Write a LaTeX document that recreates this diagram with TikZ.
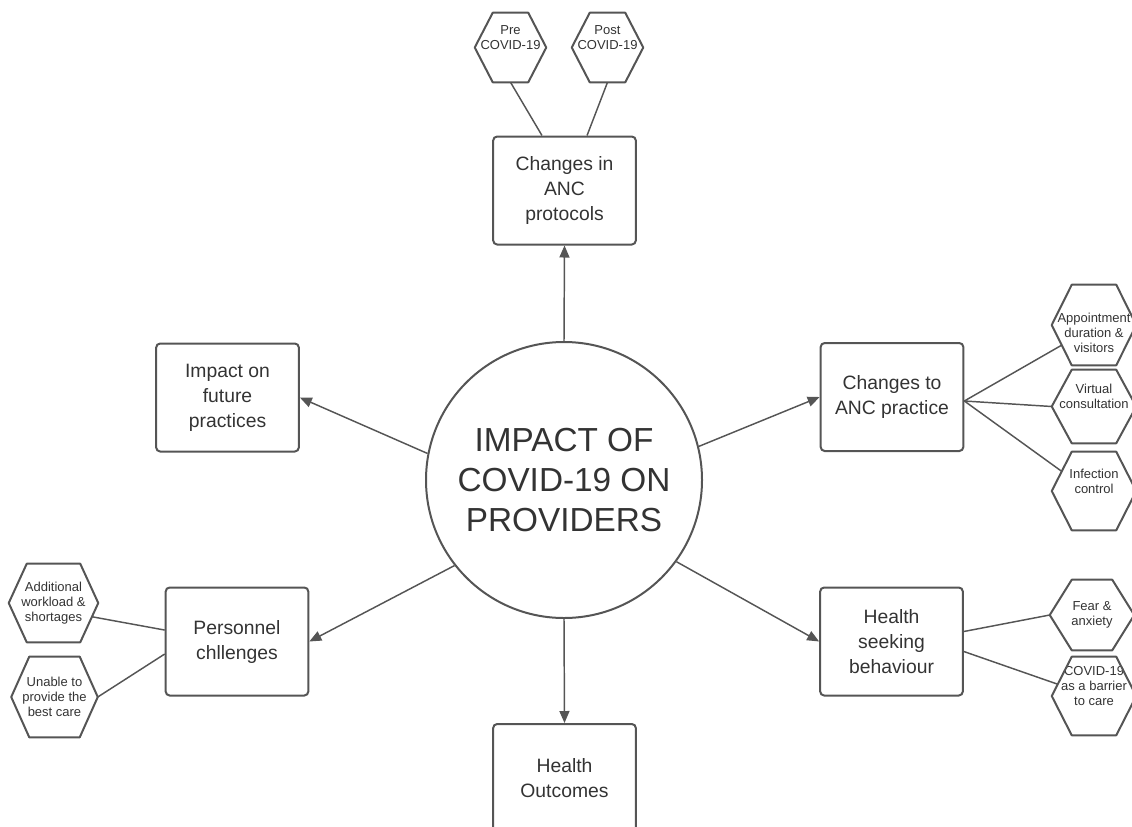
\documentclass[tikz,border=0pt]{standalone}
\usepackage{fontspec}
\setmainfont{Liberation Sans}
\usetikzlibrary{arrows.meta,calc}
\definecolor{linegray}{HTML}{555555}
\definecolor{textgray}{HTML}{333333}
\tikzset{
  conn/.style={draw=linegray, line width=1.1pt},
  arr/.style={conn, -{Triangle[length=9pt,width=7.5pt]}},
  hub/.style={circle, draw=linegray, line width=1.5pt, minimum size=207pt,
    inner sep=0pt, align=center, text=textgray,
    font=\fontsize{25}{30}\selectfont},
  topic/.style={rectangle, draw=linegray, line width=1.5pt, rounded corners=3pt,
    minimum width=107pt, minimum height=81pt, inner sep=0pt, align=center,
    text=textgray, font=\fontsize{14.5}{18.75}\selectfont},
  hexbox/.style={rectangle, inner sep=0pt, align=center, text=textgray,
    font=\fontsize{9.75}{11.25}\selectfont},
  hexline/.style={draw=linegray, line width=1.5pt, line join=round},
}
\begin{document}
\begin{tikzpicture}[x=0.75pt,y=-0.75pt]
\clip (0,0) rectangle (1132,826);

% central theme
\node[hub] (hub) at (564,480) {IMPACT OF\\COVID-19 ON\\PROVIDERS};

% main themes
\node[topic] (prot)     at (564.5,190.5) {Changes in\\ANC\\protocols};
\node[topic] (future)   at (227.5,397.5) {Impact on\\future\\practices};
\node[topic] (practice) at (892,397)     {Changes to\\ANC practice};
\node[topic] (pers)     at (237,641.5)   {Personnel\\chllenges};
\node[topic] (seek)     at (891.5,641.5) {Health\\seeking\\behaviour};
\node[topic] (outc)     at (564.5,778)   {Health\\Outcomes};

% sub-themes (hexagons)
\node[hexbox, minimum width=53.25pt, minimum height=51.75pt] (pre)  at (510.5,47.5) {Pre\\COVID-19\\\strut};
\node[hexbox, minimum width=53.25pt, minimum height=51.75pt] (post) at (607.5,47.5) {Post\\COVID-19\\\strut};
\node[hexbox, minimum width=63pt, minimum height=60pt]    (appt)  at (1094,325)   {\strut\\Appointment\\duration \&\\visitors};
\node[hexbox, minimum width=63pt, minimum height=54.75pt] (virt)  at (1094,406.5) {Virtual\\consultation\\\strut};
\node[hexbox, minimum width=63pt, minimum height=58.5pt]  (infc)  at (1094,491)   {Infection\\control\\\strut};
\node[hexbox, minimum width=63pt, minimum height=52.5pt]  (fear)  at (1092,615)   {Fear \&\\anxiety};
\node[hexbox, minimum width=63pt, minimum height=58.5pt]  (barr)  at (1094,696)   {COVID-19\\as a barrier\\to care\\\strut};
\node[hexbox, minimum width=66.75pt, minimum height=58.5pt] (addl) at (53.5,603) {Additional\\workload \&\\shortages};
\node[hexbox, minimum width=64.5pt, minimum height=60pt]  (unab)  at (54.5,697)   {Unable to\\provide the\\best care};

% hexagon outlines with named corners
\foreach \n/\s in {pre/18,post/18,appt/20,virt/20,infc/20,fear/22,barr/20,addl/18,unab/18}{
  \draw[hexline] (\n.west)
    -- ([xshift=\s*0.75pt]\n.north west) coordinate (\n-nw)
    -- ([xshift=-\s*0.75pt]\n.north east) coordinate (\n-ne)
    -- (\n.east)
    -- ([xshift=-\s*0.75pt]\n.south east) coordinate (\n-se)
    -- ([xshift=\s*0.75pt]\n.south west) coordinate (\n-sw)
    -- cycle;
}

% arrows from the central theme
\draw[arr] (hub.90)  -- (prot.south);
\draw[arr] (hub.169) -- (future.east);
\draw[arr] (hub.14)  -- (practice.west);
\draw[arr] (hub.218) -- (pers.east);
\draw[arr] (hub.324) -- (seek.west);
\draw[arr] (hub.270) -- (outc.north);

% links to sub-themes
\draw[conn] (pre.south)  -- ([xshift=-16.9pt]prot.north);
\draw[conn] (post.south) -- ([xshift=16.9pt]prot.north);

\draw[conn] ([yshift=-3pt]practice.east) -- ($(appt.west)!0.5!(appt-sw)$);
\draw[conn] ([yshift=-3pt]practice.east) -- (virt.west);
\draw[conn] ([yshift=-3pt]practice.east) -- ($(infc.west)!0.5!(infc-nw)$);

\draw[conn] ([yshift=7.5pt]seek.east)  -- (fear.west);
\draw[conn] ([yshift=-7.5pt]seek.east) -- ($(barr.west)!0.3!(barr-nw)$);

\draw[conn] ($(addl.east)!0.35!(addl-se)$) -- ([yshift=8.6pt]pers.west);
\draw[conn] (unab.east) -- ([yshift=-9.4pt]pers.west);
\end{tikzpicture}
\end{document}
